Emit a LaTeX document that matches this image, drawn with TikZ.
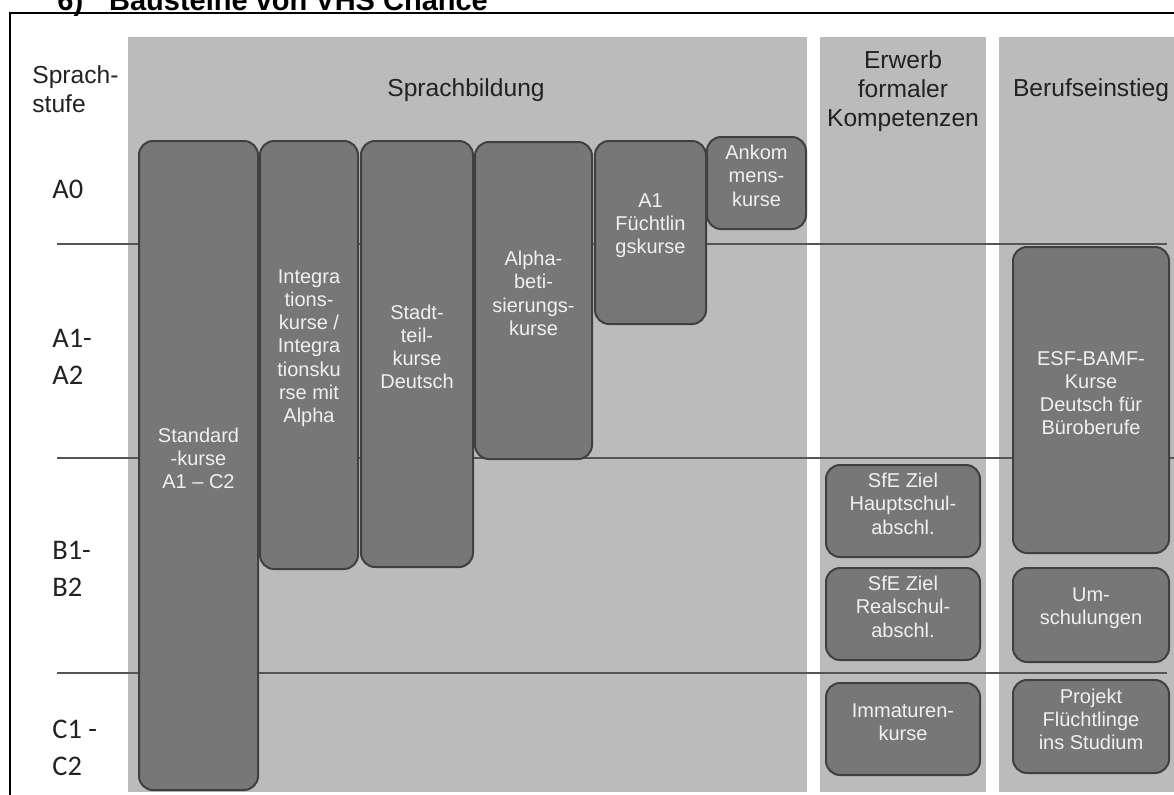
\documentclass[tikz,border=0pt]{standalone}
\usepackage{fontspec}
\setmainfont{Liberation Sans}
\newfontfamily\stufenfont{Carlito}
\usepackage{tikz}
\usetikzlibrary{positioning,fit}

\definecolor{panelgrau}{HTML}{BBBBBB}
\definecolor{kursgrau}{HTML}{777777}
\definecolor{randgrau}{HTML}{404040}
\definecolor{liniengrau}{HTML}{555555}
\definecolor{kursschrift}{HTML}{F0F0F0}
\definecolor{kopfschrift}{HTML}{222222}

\begin{document}
\begin{tikzpicture}[
    x=0.5pt, y=-0.5pt,
    panel/.style={fill=panelgrau},
    kurs/.style={rectangle, draw=randgrau, fill=kursgrau, line width=1pt, rounded corners=7pt, inner sep=0pt, align=center, text=kursschrift, font=\fontsize{10}{11.6}\selectfont},
    kopf/.style={align=center, inner sep=0pt, text=kopfschrift, font=\fontsize{12.3}{14.5}\selectfont},
    stufe/.style={anchor=west, align=left, inner sep=0pt, text=kopfschrift, font=\stufenfont\fontsize{14.2}{18.5}\selectfont},
    trenn/.style={draw=liniengrau, line width=1pt}
]
    \useasboundingbox (0,0) rectangle (1174,794);
    \clip (0,0) rectangle (1174,794);

    % title and frame, both cut by the page
    \node[anchor=base west, inner sep=0pt, font=\bfseries\fontsize{14.5}{17}\selectfont] (titel) at (57,10) {6)\hspace{13pt}Bausteine von VHS Chance};
    \draw[line width=1pt] (10,800) -- (10,13) -- (1180,13);

    % columns
    \fill[panel] (128,37) rectangle (807,792);
    \fill[panel] (820,37) rectangle (986,792);
    \fill[panel] (999,37) rectangle (1180,792);

    \node[kopf, anchor=west, align=left] (sprachstufe) at (32,89) {Sprach-\\stufe};
    \node[kopf] (sprachbildung) at (466,90) {Sprachbildung};
    \node[kopf] (erwerb) at (903,91) {Erwerb\\formaler\\Kompetenzen};
    \node[kopf] (beruf) at (1091,90) {Berufseinstieg};

    % level separators
    \draw[trenn] (57,244) -- (1167,244);
    \draw[trenn] (57,458) -- (1174,458);
    \draw[trenn] (57,673) -- (1167,673);

    \node[stufe] (a0) at (52,189) {A0};
    \node[stufe] (a1) at (52,357) {A1-\\A2};
    \node[stufe] (b1) at (52,569) {B1-\\B2};
    \node[stufe] (c1) at (52,748) {C1 -\\C2};

    % Sprachbildung
    \node[kurs, fit={(139,141) (258,790)}] (standard) {Standard\\-kurse\\A1 – C2};
    \node[kurs, fit={(260,141) (358,569)}] (integration) {Integra\\tions-\\kurse /\\Integra\\tionsku\\rse mit\\Alpha};
    \node[kurs, fit={(361,141) (473,567)}] (stadtteil) {Stadt-\\teil-\\kurse\\Deutsch};
    \node[kurs, fit={(475,142) (592,459)}] (alpha) {Alpha-\\beti-\\sierungs-\\kurse};
    \node[kurs, fit={(595,141) (706,324)}] (fluechtling) {A1\\Füchtlin\\gskurse};
    \node[kurs, fit={(707,137) (806,229)}] (ankommen) {Ankom\\mens-\\kurse};

    % Erwerb formaler Kompetenzen
    \node[kurs, fit={(826,465) (980,557)}] (haupt) {SfE Ziel\\Hauptschul-\\abschl.};
    \node[kurs, fit={(826,568) (980,660)}] (real) {SfE Ziel\\Realschul-\\abschl.};
    \node[kurs, fit={(826,683) (980,775)}] (immaturen) {Immaturen-\\kurse};

    % Berufseinstieg
    \node[kurs, fit={(1013,247) (1169,553)}] (esf) {ESF-BAMF-\\Kurse\\Deutsch für\\Büroberufe};
    \node[kurs, fit={(1013,568) (1169,662)}] (umschulung) {Um-\\schulungen};
    \node[kurs, fit={(1013,680) (1169,773)}] (studium) {Projekt\\Flüchtlinge\\ins Studium};
\end{tikzpicture}
\end{document}
